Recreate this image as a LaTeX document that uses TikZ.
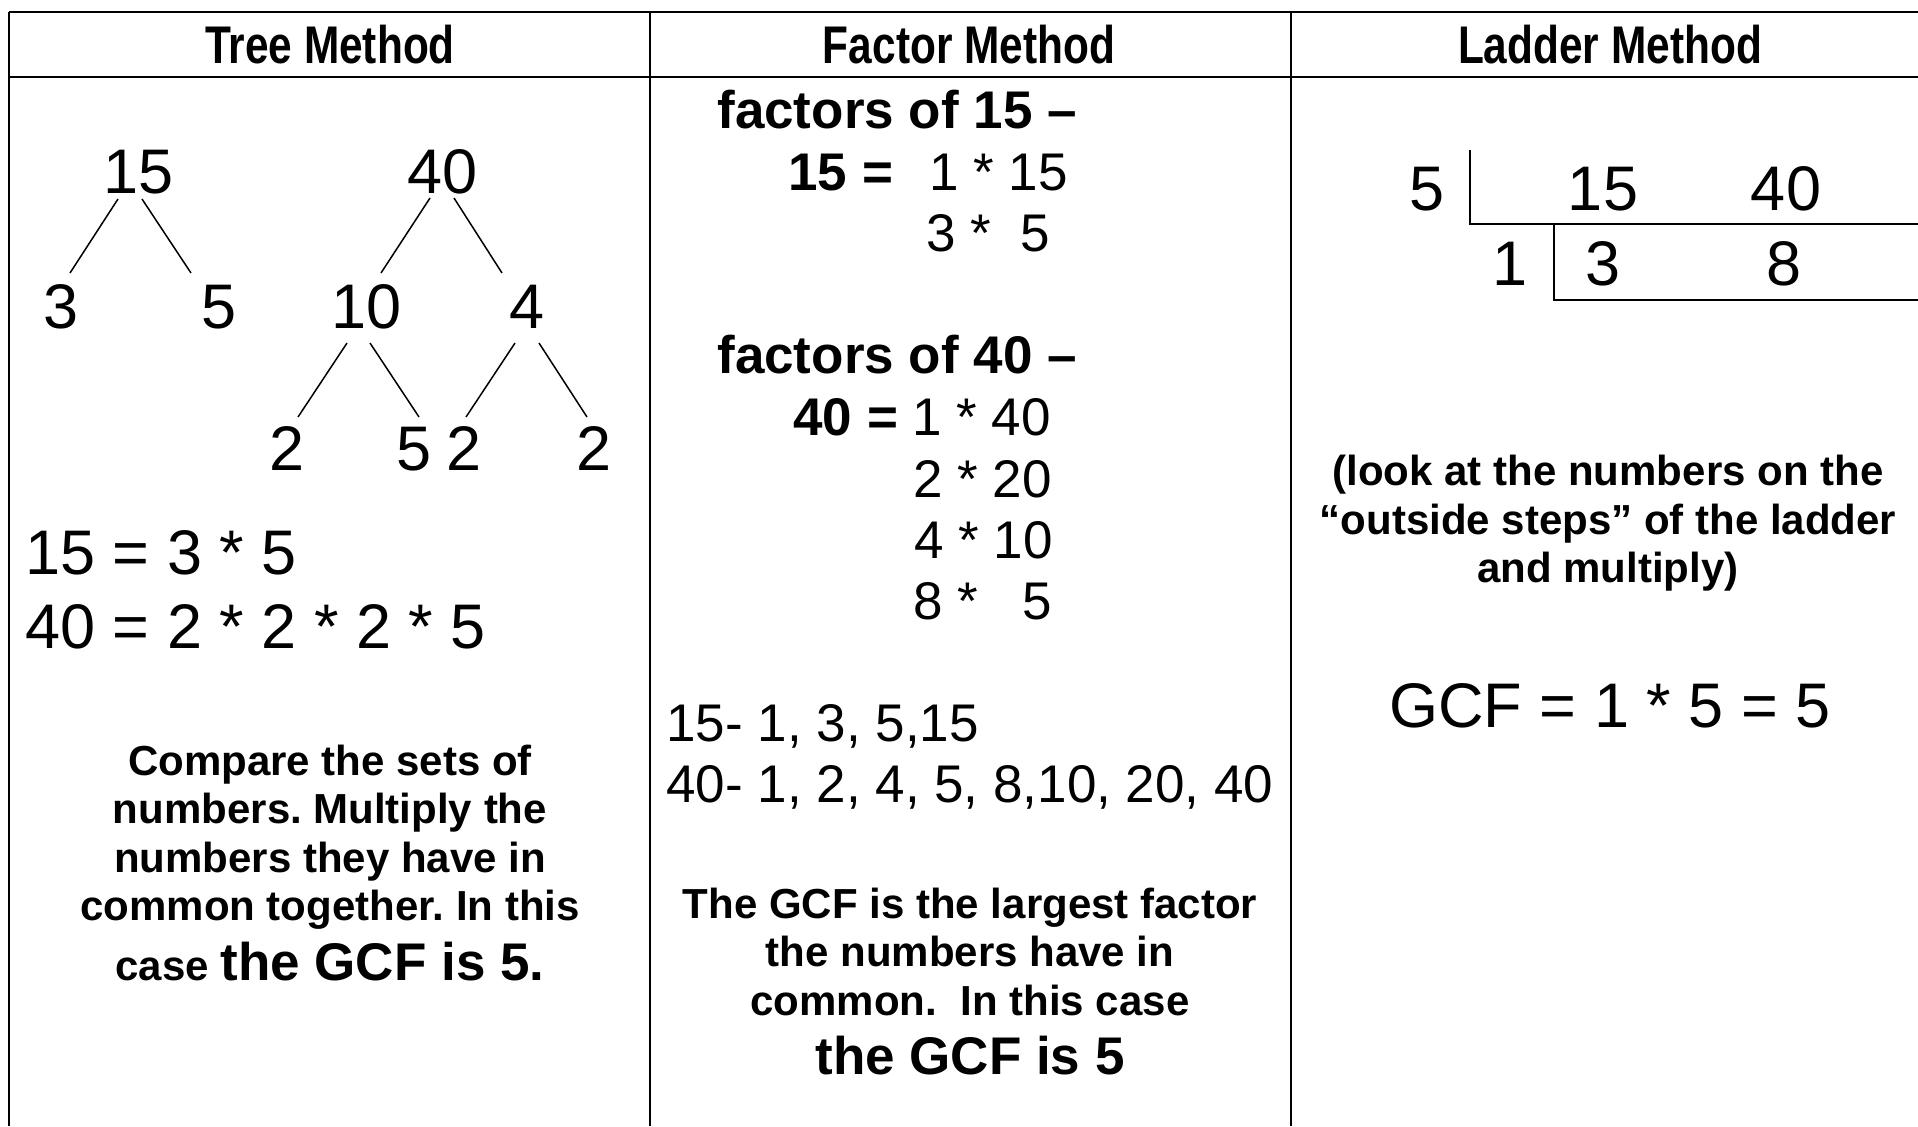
\documentclass[tikz,border=0pt]{standalone}
\usepackage{fontspec}
\setmainfont{Liberation Sans}
\newfontfamily\headfont{Liberation Sans}[FakeStretch=0.8]
\usetikzlibrary{calc}
\frenchspacing

\begin{document}
\begin{tikzpicture}[
    x=0.5pt, y=-0.5pt,
    gridline/.style={line width=1.25pt},
    ladderline/.style={line width=1pt},
    branch/.style={line width=0.75pt},
    header/.style={font=\headfont\bfseries\fontsize{26.5}{30}\selectfont, anchor=base, inner sep=0pt},
    bignum/.style={font=\fontsize{31.5}{36}\selectfont, anchor=base, inner sep=0pt},
    factortext/.style={font=\fontsize{26.5}{30}\selectfont, anchor=base west, inner sep=0pt},
    factorbold/.style={factortext, font=\bfseries\fontsize{26.5}{30}\selectfont},
    note/.style={font=\bfseries\fontsize{21}{25}\selectfont, anchor=base, inner sep=0pt}
]

% ---------- Parameters ----------
\def\colA{9}
\def\colB{650}
\def\colC{1291}
\def\colR{1918}
\def\rowTop{12}
\def\rowHead{77}
\def\rowBot{1126}

\useasboundingbox (0,0) rectangle (1918,1126);

% ---------- Table ----------
\draw[gridline] (\colA,\rowTop) -- (\colR,\rowTop);
\draw[gridline] (\colA,\rowHead) -- (\colR,\rowHead);
\draw[gridline] (\colA,\rowTop) -- (\colA,\rowBot);
\draw[gridline] (\colB,\rowTop) -- (\colB,\rowBot);
\draw[gridline] (\colC,\rowTop) -- (\colC,\rowBot);

\node[header] (hTree) at (330,63) {Tree Method};
\node[header] (hFactor) at (969,63) {Factor Method};
\node[header] (hLadder) at (1610,63) {Ladder Method};

% ---------- Tree method ----------
\node[bignum] (t15) at (139,193) {15};
\node[bignum] (t40) at (443,193) {40};
\node[bignum] (t3) at (61,328) {3};
\node[bignum] (t5) at (219,328) {5};
\node[bignum] (t10) at (367,328) {10};
\node[bignum] (t4) at (527,328) {4};
\node[bignum] (t2a) at (287,470) {2};
\node[bignum] (t5b) at (414,470) {5};
\node[bignum] (t2b) at (464,470) {2};
\node[bignum] (t2c) at (594,470) {2};

\draw[branch] ($(t15.base)+(-21,6)$) -- ($(t3.base)+(9,-55)$);
\draw[branch] ($(t15.base)+(3,6)$) -- ($(t5.base)+(-28,-55)$);
\draw[branch] ($(t40.base)+(-13,5)$) -- ($(t10.base)+(14,-55)$);
\draw[branch] ($(t40.base)+(11,5)$) -- ($(t4.base)+(-25,-55)$);
\draw[branch] ($(t10.base)+(-20,15)$) -- ($(t2a.base)+(11,-53)$);
\draw[branch] ($(t10.base)+(3,15)$) -- ($(t5b.base)+(5,-53)$);
\draw[branch] ($(t4.base)+(-12,15)$) -- ($(t2b.base)+(2,-53)$);
\draw[branch] ($(t4.base)+(12,15)$) -- ($(t2c.base)+(-7,-53)$);

\node[bignum, anchor=base west] (eq15) at (25,574) {15 = 3 * 5};
\node[bignum, anchor=base west] (eq40) at (25,648) {40 = 2 * 2 * 2 * 5};

\node[note] (cmp1) at (330,775) {Compare the sets of};
\node[note] (cmp2) at (330,823) {numbers. Multiply the};
\node[note] (cmp3) at (330,872) {numbers they have in};
\node[note] (cmp4) at (330,920) {common together. In this};
\node[note] (cmp5) at (330,980) {case {\fontsize{26.5}{30}\selectfont the GCF is 5.}};

% ---------- Factor method ----------
\node[factorbold] (f15) at (717,128) {factors of 15 –};
\node[factorbold] (e15) at (788,190) {15 =};
\node[factortext] (p15a) at (929,190) {1 * 15};
\node[factortext] (p15b) at (926,251) {3 *~ 5};

\node[factorbold] (f40) at (717,373) {factors of 40 –};
\node[factorbold] (e40) at (793,435) {40 =};
\node[factortext] (p40a) at (912,435) {1 * 40};
\node[factortext] (p40b) at (913,497) {2 * 20};
\node[factortext] (p40c) at (914,558) {4 * 10};
\node[factortext] (p40d) at (913,619) {8 *~~ 5};

\node[factortext] (l15) at (666,741) {15- 1, 3, 5,15};
\node[factortext] (l40) at (666,802) {40- 1, 2, 4, 5, 8,10, 20, 40};

\node[note] (gcf1) at (970,918) {The GCF is the largest factor};
\node[note] (gcf2) at (970,966) {the numbers have in};
\node[note] (gcf3) at (970,1015) {common.~ In this case};
\node[note, font=\bfseries\fontsize{26.5}{30}\selectfont] (gcf4) at (970,1074) {the GCF is 5};

% ---------- Ladder method ----------
\node[bignum] (d5) at (1427,210) {5};
\node[bignum] (d15) at (1603,210) {15};
\node[bignum] (d40) at (1786,210) {40};
\node[bignum] (d1) at (1510,285) {1};
\node[bignum] (d3) at (1603,285) {3};
\node[bignum] (d8) at (1784,285) {8};

\draw[ladderline] (1470,150) -- (1470,224) -- (\colR,224);
\draw[ladderline] (1554,224) -- (1554,300) -- (\colR,300);

\node[note] (look1) at (1608,485) {(look at the numbers on the};
\node[note] (look2) at (1608,534) {“outside steps” of the ladder};
\node[note] (look3) at (1608,582) {and multiply)};

\node[bignum] (gcf) at (1610,727) {GCF = 1 * 5 = 5};

\end{tikzpicture}
\end{document}
